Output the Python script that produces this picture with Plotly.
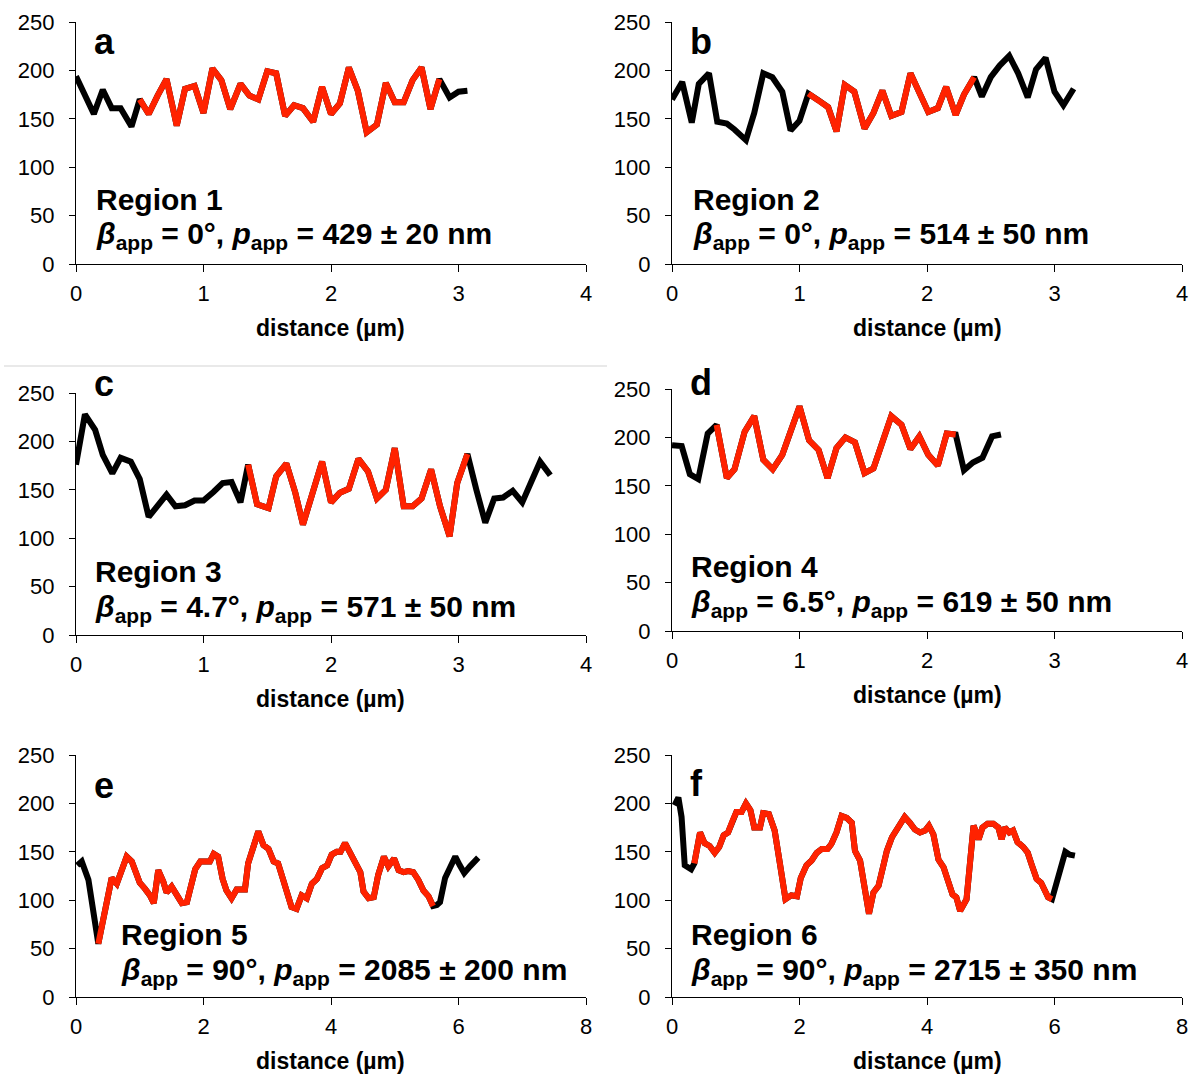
import plotly.graph_objects as go

# ---------------- data ----------------
a_x = [0, 0.07, 0.14, 0.21, 0.28, 0.35, 0.435, 0.50, 0.57, 0.64, 0.71, 0.79, 0.855, 0.93, 1.0,
       1.07, 1.14, 1.21, 1.29, 1.36, 1.43, 1.50, 1.57, 1.64, 1.71, 1.78, 1.86, 1.93, 2.0, 2.07,
       2.14, 2.21, 2.28, 2.36, 2.43, 2.50, 2.57, 2.64, 2.71, 2.78, 2.85, 2.93, 3.0, 3.07]
a_y = [194, 175, 155, 180, 161, 161, 142, 170, 155, 174, 191, 143, 181, 184, 156, 202, 190, 160,
       186, 174, 170, 199, 197, 153, 164, 161, 147, 183, 155, 166, 203, 179, 136, 144, 187, 167,
       167, 190, 203, 160, 191, 172, 178, 179]
a_red = (0.50, 2.85)

b_x = [0, 0.08, 0.155, 0.21, 0.29, 0.355, 0.43, 0.49, 0.58, 0.645, 0.716, 0.787, 0.865, 0.93,
       1.0, 1.07, 1.15, 1.225, 1.29, 1.355, 1.43, 1.51, 1.58, 1.65, 1.72, 1.80, 1.87, 1.94, 2.01,
       2.085, 2.15, 2.225, 2.29, 2.37, 2.43, 2.50, 2.57, 2.645, 2.715, 2.79, 2.855, 2.93, 3.0,
       3.07, 3.15]
b_y = [170, 188, 146, 186, 197, 147, 145, 139, 128, 156, 197, 193, 178, 138, 148, 176, 169, 162,
       137, 185, 178, 140, 156, 179, 153, 157, 197, 178, 157, 161, 183, 154, 175, 193, 173, 193,
       205, 215, 197, 172, 201, 213, 178, 164, 181]
b_red = (1.07, 2.37)

c_x = [0, 0.07, 0.15, 0.21, 0.285, 0.35, 0.43, 0.50, 0.57, 0.64, 0.71, 0.78, 0.855, 0.93, 1.0,
       1.08, 1.15, 1.22, 1.29, 1.35, 1.42, 1.51, 1.57, 1.65, 1.72, 1.78, 1.86, 1.93, 2.0, 2.07,
       2.14, 2.215, 2.29, 2.36, 2.43, 2.50, 2.57, 2.64, 2.71, 2.785, 2.855, 2.93, 2.99, 3.07,
       3.14, 3.21, 3.28, 3.35, 3.425, 3.50, 3.57, 3.64, 3.72]
c_y = [176, 228, 212, 186, 167, 183, 179, 161, 122, 134, 145, 133, 134, 139, 139, 148, 157, 158,
       137, 176, 135, 131, 164, 177, 147, 114, 149, 179, 137, 147, 151, 182, 169, 141, 150, 193,
       133, 133, 141, 171, 133, 102, 157, 187, 150, 116, 141, 142, 149, 137, 158, 179, 165]
c_red = (1.35, 3.07)

d_x = [0, 0.076, 0.14, 0.206, 0.28, 0.35, 0.43, 0.49, 0.57, 0.645, 0.716, 0.79, 0.865, 0.93,
       1.0, 1.075, 1.15, 1.22, 1.29, 1.36, 1.435, 1.51, 1.58, 1.65, 1.72, 1.80, 1.87, 1.94, 2.01,
       2.085, 2.155, 2.225, 2.29, 2.36, 2.435, 2.51, 2.58]
d_y = [192, 191, 162, 157, 204, 213, 158, 167, 206, 222, 177, 167, 182, 206, 232, 197, 187, 158,
       189, 200, 195, 163, 168, 195, 222, 213, 188, 201, 182, 171, 204, 203, 166, 174, 179, 201,
       203]
d_red = (0.35, 2.225)

e_x = [0.02, 0.09, 0.195, 0.27, 0.35, 0.43, 0.51, 0.56, 0.64, 0.72,
       0.795, 0.875, 0.94, 1.0, 1.08, 1.16, 1.22, 1.29, 1.37, 1.42,
       1.50, 1.58, 1.66, 1.74, 1.80, 1.87, 1.95, 2.02, 2.10, 2.16,
       2.23, 2.30, 2.36, 2.44, 2.52, 2.60, 2.65, 2.70, 2.78, 2.86,
       2.94, 3.02, 3.10, 3.17, 3.25, 3.33, 3.38, 3.46, 3.54, 3.62,
       3.70, 3.78, 3.86, 3.94, 4.01, 4.09, 4.15, 4.22, 4.30, 4.38,
       4.46, 4.51, 4.59, 4.67, 4.74, 4.83, 4.90, 4.99, 5.06, 5.14,
       5.21, 5.29, 5.37, 5.45, 5.53, 5.60, 5.66, 5.71, 5.79, 5.87,
       5.95, 6.02, 6.09, 6.18, 6.31]
e_y = [136, 140, 121, 90, 55, 81, 112, 123, 117, 131,
       145, 140, 129, 118, 112, 105, 97, 131, 119, 108,
       114, 106, 97, 98, 112, 132, 140, 140, 140, 148,
       145, 122, 110, 102, 111, 111, 111, 138, 154, 171,
       157, 153, 140, 138, 121, 105, 93, 91, 105, 102,
       117, 122, 133, 136, 147, 150, 150, 159, 148, 140,
       129, 109, 102, 103, 126, 145, 135, 143, 131, 129,
       130, 129, 121, 110, 104, 94, 95, 98, 123, 134,
       145, 136, 128, 135, 144]
e_red = (0.35, 5.60)

f_x = [0.04, 0.10, 0.15, 0.20, 0.30, 0.35, 0.44, 0.51, 0.59, 0.67,
       0.74, 0.81, 0.88, 0.95, 1.01, 1.09, 1.16, 1.23, 1.29, 1.38,
       1.43, 1.52, 1.61, 1.69, 1.78, 1.87, 1.96, 2.02, 2.11, 2.19,
       2.27, 2.35, 2.44, 2.50, 2.58, 2.66, 2.74, 2.82, 2.87, 2.95,
       3.03, 3.09, 3.16, 3.24, 3.32, 3.37, 3.45, 3.53, 3.65, 3.73,
       3.81, 3.89, 3.97, 4.03, 4.10, 4.18, 4.26, 4.33, 4.40, 4.46,
       4.52, 4.62, 4.66, 4.73, 4.81, 4.87, 4.95, 5.04, 5.12, 5.17,
       5.22, 5.29, 5.35, 5.42, 5.51, 5.58, 5.64, 5.72, 5.79, 5.84,
       5.90, 5.96, 6.03, 6.11, 6.17, 6.24, 6.32]
f_y = [198, 206, 186, 136, 132, 138, 170, 159, 156, 149,
       155, 167, 170, 182, 191, 191, 200, 193, 175, 175,
       190, 189, 172, 139, 101, 105, 104, 123, 136, 141,
       149, 153, 153, 158, 170, 187, 185, 180, 151, 141,
       106, 86, 108, 115, 137, 151, 165, 173, 186, 180,
       173, 170, 172, 177, 168, 142, 134, 120, 106, 103,
       89, 101, 130, 177, 163, 175, 179, 179, 175, 163,
       175, 170, 172, 160, 155, 149, 137, 122, 118, 111,
       103, 101, 118, 136, 150, 147, 146]
f_red = (0.35, 5.96)

panel_letters = ["a", "b", "c", "d", "e", "f"]
region_names = ["Region 1", "Region 2", "Region 3", "Region 4", "Region 5", "Region 6"]
beta_values = ["0°", "0°", "4.7°", "6.5°", "90°", "90°"]
p_values = ["429 ± 20 nm", "514 ± 50 nm", "571 ± 50 nm", "619 ± 50 nm",
            "2085 ± 200 nm", "2715 ± 350 nm"]
x_max = [4, 4, 4, 4, 8, 8]
x_dtick = [1, 1, 1, 1, 2, 2]
y_ticks = [0, 50, 100, 150, 200, 250]
x_title = "distance (µm)"

series = [(a_x, a_y, a_red), (b_x, b_y, b_red), (c_x, c_y, c_red),
          (d_x, d_y, d_red), (e_x, e_y, e_red), (f_x, f_y, f_red)]

# ---------------- layout geometry (pixels) ----------------
W, H = 1192, 1075
# (left, right, top, bottom) of each plot area
boxes = [(76, 586, 22, 264), (672, 1182, 22, 264),
         (76, 586, 393, 635), (672, 1182, 389, 631),
         (76, 586, 755, 997), (672, 1182, 755, 997)]
letter_pos = [(92, 42), (688, 42), (92, 383), (688, 382), (92, 785), (688, 783)]
text_pos = [(94, 199), (691, 199), (93, 571), (689, 566), (119, 934), (689, 934)]
line_gap = 37

def px(x):
    return x / W

def py(y):
    return 1 - y / H

FONT = "Liberation Sans, Arial, sans-serif"
RED = "#ff2200"
LW = 6

fig = go.Figure()
layout = dict(width=W, height=H, margin=dict(l=0, r=0, t=0, b=0, autoexpand=False),
              paper_bgcolor="white", plot_bgcolor="white", showlegend=False,
              font=dict(family=FONT, color="black"))
annotations = []

for i, ((xs, ys, red), box) in enumerate(zip(series, boxes)):
    n = i + 1
    xa = "x" if n == 1 else f"x{n}"
    ya = "y" if n == 1 else f"y{n}"
    fig.add_trace(go.Scatter(x=xs, y=ys, mode="lines", xaxis=xa, yaxis=ya,
                             line=dict(color="black", width=LW), hoverinfo="skip"))
    rx = [x for x in xs if red[0] <= x <= red[1]]
    ry = [y for x, y in zip(xs, ys) if red[0] <= x <= red[1]]
    fig.add_trace(go.Scatter(x=rx, y=ry, mode="lines", xaxis=xa, yaxis=ya,
                             line=dict(color=RED, width=LW), hoverinfo="skip"))
    l, r, t, b = box
    xkey = "xaxis" if n == 1 else f"xaxis{n}"
    ykey = "yaxis" if n == 1 else f"yaxis{n}"
    layout[xkey] = dict(domain=[px(l), px(r)], anchor=ya, range=[0, x_max[i]],
                        tick0=0, dtick=x_dtick[i], showgrid=False, zeroline=False,
                        showline=True, linecolor="black", linewidth=1.3,
                        ticks="outside", ticklen=7, tickwidth=1.3, tickcolor="black",
                        tickfont=dict(size=22, family=FONT, color="black"),
                        ticklabelstandoff=2, fixedrange=True, automargin=False)
    layout[ykey] = dict(domain=[py(b), py(t)], anchor=xa, range=[0, 250],
                        tickvals=y_ticks, showgrid=False, zeroline=False,
                        showline=True, linecolor="black", linewidth=1.3,
                        ticks="outside", ticklen=6, tickwidth=1.3, tickcolor="black",
                        tickfont=dict(size=22, family=FONT, color="black"),
                        ticklabelstandoff=10, fixedrange=True, automargin=False)
    # axis title
    annotations.append(dict(text=f"<b>{x_title}</b>", xref="paper", yref="paper",
                            x=px((l + r) / 2), y=py(b + 64), xanchor="center", yanchor="middle",
                            showarrow=False, font=dict(size=23, family=FONT, color="black")))
    # panel letter
    lx, ly = letter_pos[i]
    annotations.append(dict(text=f"<b>{panel_letters[i]}</b>", xref="paper", yref="paper",
                            x=px(lx), y=py(ly), xanchor="left", yanchor="middle",
                            showarrow=False, font=dict(size=36, family=FONT, color="black")))
    # region text
    tx, ty = text_pos[i]
    annotations.append(dict(text=f"<b>{region_names[i]}</b>", xref="paper", yref="paper",
                            x=px(tx), y=py(ty), xanchor="left", yanchor="middle",
                            showarrow=False, font=dict(size=30, family=FONT, color="black")))
    annotations.append(dict(
        text=(f"<b><i>β</i><sub>app</sub> = {beta_values[i]}, "
              f"<i>p</i><sub>app</sub> = {p_values[i]}</b>"),
        xref="paper", yref="paper", x=px(tx), y=py(ty + line_gap),
        xanchor="left", yanchor="middle", showarrow=False,
        font=dict(size=30, family=FONT, color="black")))

layout["annotations"] = annotations
layout["shapes"] = [dict(type="line", xref="paper", yref="paper",
                         x0=px(4), x1=px(607), y0=py(366), y1=py(366),
                         line=dict(color="#d4d4d4", width=1.2))]
fig.update_layout(**layout)
fig.write_html(
    "out.html",
    config={"displayModeBar": False},
    post_script="document.body.style.margin='0';document.body.style.overflow='hidden';",
)
